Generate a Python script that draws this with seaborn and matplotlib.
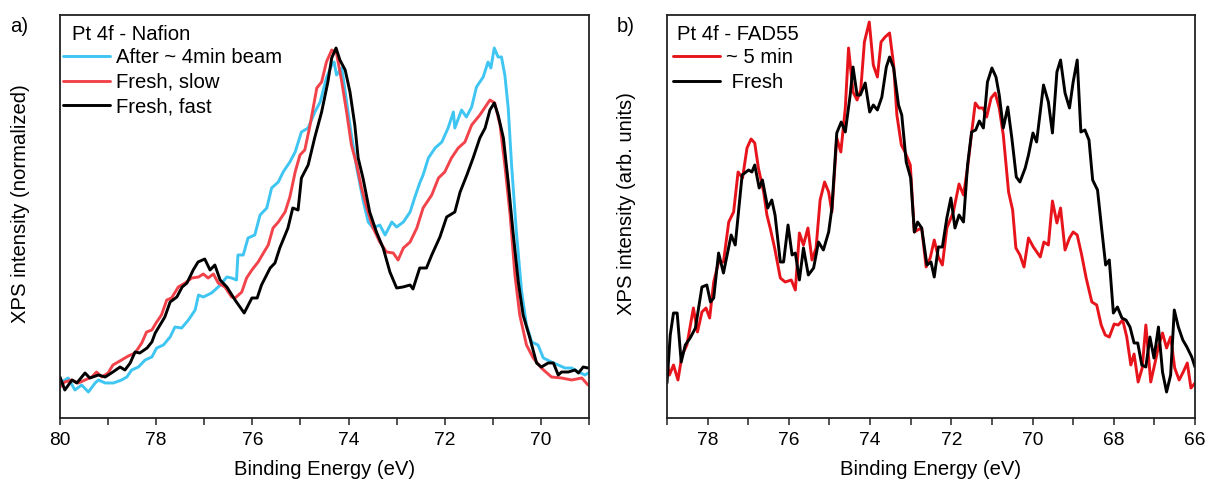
import numpy as np
import pandas as pd
import matplotlib
matplotlib.use("Agg")
import matplotlib.pyplot as plt
import seaborn as sns

# ---------------- Panel a: Pt 4f - Nafion ----------------
a_black_E = [80.00, 79.90, 79.75, 79.65, 79.48, 79.38, 79.20, 79.06, 78.90, 78.75, 78.65, 78.54, 78.44, 78.34,
             78.19, 78.09, 78.02, 77.92, 77.82, 77.71, 77.57, 77.46, 77.36, 77.23, 77.13, 76.99, 76.88, 76.78,
             76.67, 76.53, 76.36, 76.17, 76.01, 75.90, 75.81, 75.63, 75.53, 75.43, 75.26, 75.16, 75.05, 74.98,
             74.84, 74.70, 74.56, 74.43, 74.35, 74.26, 74.18, 74.07, 73.97, 73.87, 73.80, 73.70, 73.56, 73.42,
             73.28, 73.14, 73.00, 72.87, 72.72, 72.66, 72.52, 72.38, 72.27, 72.10, 71.96, 71.79, 71.68, 71.54,
             71.41, 71.27, 71.16, 71.06, 70.97, 70.89, 70.78, 70.68, 70.58, 70.47, 70.37, 70.23, 70.09, 69.99,
             69.85, 69.74, 69.64, 69.57, 69.43, 69.29, 69.22, 69.12, 69.02]
a_black_I = [41, 28, 38, 35, 45, 40, 43, 41, 46, 51, 48, 55, 66, 65,
             70, 76, 85, 93, 101, 116, 121, 131, 135, 148, 156, 159, 148, 153,
             138, 131, 118, 105, 120, 120, 133, 150, 155, 170, 190, 210, 208, 240,
             253, 281, 306, 336, 360, 370, 358, 348, 326, 293, 260, 240, 206, 186,
             170, 146, 130, 131, 133, 129, 150, 150, 163, 181, 201, 206, 226, 243,
             260, 280, 290, 308, 315, 303, 280, 236, 186, 136, 103, 80, 55, 51,
             55, 55, 43, 46, 46, 48, 45, 51, 50]

a_red_E = [80.00, 79.90, 79.76, 79.62, 79.48, 79.34, 79.24, 79.13, 79.00, 78.90, 78.72, 78.58, 78.44, 78.30,
           78.20, 78.09, 77.99, 77.89, 77.78, 77.68, 77.54, 77.40, 77.26, 77.12, 77.02, 76.92, 76.81, 76.71,
           76.57, 76.43, 76.36, 76.22, 76.12, 76.01, 75.88, 75.77, 75.67, 75.57, 75.46, 75.32, 75.22, 75.11,
           75.01, 74.91, 74.80, 74.66, 74.56, 74.46, 74.35, 74.25, 74.14, 74.04, 73.94, 73.83, 73.73, 73.62,
           73.49, 73.35, 73.21, 73.07, 72.97, 72.86, 72.72, 72.58, 72.45, 72.27, 72.13, 72.00, 71.86, 71.72,
           71.58, 71.44, 71.27, 71.13, 71.06, 70.96, 70.85, 70.75, 70.64, 70.54, 70.44, 70.30, 70.16, 69.99,
           69.78, 69.57, 69.36, 69.15, 69.02]
a_red_I = [31, 36, 38, 35, 38, 41, 46, 41, 45, 53, 58, 62, 65, 75,
           86, 88, 96, 103, 118, 120, 131, 135, 140, 141, 144, 140, 144, 135,
           131, 121, 120, 126, 140, 148, 156, 165, 173, 190, 196, 206, 221, 246,
           263, 268, 293, 330, 336, 356, 368, 365, 336, 306, 273, 253, 230, 210,
           190, 176, 166, 165, 158, 170, 176, 190, 210, 223, 240, 246, 260, 270,
           276, 293, 303, 313, 318, 315, 293, 253, 203, 143, 103, 73, 60, 50,
           41, 40, 38, 40, 33]

a_blue_E = [80.00, 79.83, 79.69, 79.55, 79.41, 79.27, 79.20, 79.06, 78.89, 78.72, 78.61, 78.51, 78.37, 78.23,
            78.09, 77.99, 77.85, 77.71, 77.61, 77.47, 77.33, 77.19, 77.12, 77.02, 76.85, 76.71, 76.53, 76.43,
            76.33, 76.30, 76.19, 76.09, 75.95, 75.84, 75.70, 75.60, 75.46, 75.36, 75.22, 75.11, 74.98, 74.84,
            74.70, 74.59, 74.46, 74.35, 74.30, 74.25, 74.14, 74.04, 73.94, 73.83, 73.69, 73.59, 73.49, 73.35,
            73.24, 73.10, 73.00, 72.86, 72.72, 72.62, 72.52, 72.45, 72.34, 72.20, 72.06, 71.93, 71.82, 71.79,
            71.65, 71.55, 71.44, 71.34, 71.20, 71.10, 71.04, 70.97, 70.89, 70.82, 70.75, 70.68, 70.61, 70.51,
            70.40, 70.30, 70.19, 70.06, 69.95, 69.78, 69.64, 69.50, 69.36, 69.22, 69.08, 69.02]
a_blue_I = [35, 40, 28, 33, 26, 35, 38, 35, 35, 38, 41, 48, 51, 58,
            61, 70, 73, 81, 91, 90, 98, 108, 123, 121, 125, 131, 141, 140,
            138, 163, 163, 180, 183, 203, 210, 230, 236, 246, 256, 266, 286, 290,
            306, 316, 340, 353, 356, 343, 350, 316, 283, 250, 216, 196, 190, 193,
            183, 196, 191, 196, 206, 221, 235, 243, 260, 270, 276, 290, 306, 290,
            308, 301, 311, 331, 341, 356, 350, 370, 361, 361, 343, 310, 253, 186,
            126, 93, 76, 73, 60, 56, 53, 50, 50, 46, 43, 45]

a_labels = ["After ~ 4min beam", "Fresh, slow", "Fresh, fast"]
a_title = "Pt 4f - Nafion"

# ---------------- Panel b: Pt 4f - FAD55 ----------------
b_black_E = [79.00, 78.92, 78.84, 78.75, 78.65, 78.55, 78.43, 78.30, 78.14, 78.02, 77.93, 77.85, 77.73, 77.61,
             77.52, 77.42, 77.32, 77.15, 76.99, 76.91, 76.84, 76.73, 76.65, 76.52, 76.42, 76.34, 76.21, 76.13,
             76.02, 75.92, 75.84, 75.74, 75.64, 75.52, 75.39, 75.27, 75.15, 75.02, 74.94, 74.82, 74.71, 74.61,
             74.49, 74.42, 74.32, 74.24, 74.12, 74.01, 73.92, 73.82, 73.71, 73.60, 73.52, 73.42, 73.30, 73.22,
             73.11, 73.00, 72.91, 72.83, 72.73, 72.60, 72.50, 72.42, 72.32, 72.22, 72.11, 72.01, 71.91, 71.81,
             71.70, 71.60, 71.50, 71.40, 71.31, 71.21, 71.11, 71.00, 70.90, 70.82, 70.72, 70.61, 70.51, 70.40,
             70.31, 70.18, 70.10, 69.99, 69.90, 69.73, 69.61, 69.51, 69.40, 69.31, 69.20, 69.09, 69.00, 68.90,
             68.81, 68.71, 68.61, 68.52, 68.40, 68.30, 68.20, 68.11, 68.01, 67.91, 67.80, 67.70, 67.60, 67.50,
             67.41, 67.31, 67.21, 67.11, 67.01, 66.90, 66.80, 66.70, 66.60, 66.51, 66.41, 66.30, 66.20, 66.08,
             66.00]
b_black_I = [35, 83, 105, 105, 56, 73, 80, 90, 131, 133, 116, 120, 165, 145,
             163, 183, 173, 243, 248, 246, 253, 230, 238, 210, 218, 203, 156, 156,
             193, 163, 165, 138, 170, 143, 150, 176, 168, 186, 210, 285, 296, 286,
             323, 351, 323, 323, 335, 306, 313, 308, 321, 351, 361, 350, 313, 303,
             256, 240, 186, 196, 190, 153, 156, 141, 171, 171, 200, 220, 190, 203,
             196, 253, 286, 288, 297, 290, 336, 350, 341, 323, 290, 311, 280, 241,
             236, 250, 263, 285, 276, 333, 316, 285, 346, 358, 325, 310, 336, 358,
             286, 288, 278, 238, 228, 190, 153, 158, 105, 111, 100, 98, 91, 75,
             75, 53, 51, 81, 60, 91, 46, 26, 43, 108, 91, 78, 71, 61,
             51]

b_red_E = [79.00, 78.94, 78.84, 78.73, 78.63, 78.51, 78.35, 78.25, 78.14, 78.04, 77.95, 77.85, 77.73, 77.61,
           77.48, 77.36, 77.25, 77.14, 77.03, 76.93, 76.84, 76.75, 76.62, 76.54, 76.46, 76.35, 76.21, 76.09,
           75.94, 75.84, 75.74, 75.64, 75.53, 75.43, 75.33, 75.23, 75.12, 75.02, 74.94, 74.82, 74.72, 74.61,
           74.53, 74.42, 74.32, 74.23, 74.14, 74.02, 73.92, 73.82, 73.73, 73.63, 73.52, 73.42, 73.34, 73.23,
           73.14, 73.01, 72.91, 72.83, 72.73, 72.62, 72.52, 72.42, 72.32, 72.22, 72.11, 71.95, 71.81, 71.70,
           71.60, 71.50, 71.41, 71.32, 71.22, 71.13, 71.02, 70.92, 70.82, 70.72, 70.59, 70.49, 70.41, 70.31,
           70.21, 70.10, 69.98, 69.81, 69.72, 69.61, 69.51, 69.40, 69.31, 69.20, 69.09, 69.00, 68.90, 68.79,
           68.68, 68.54, 68.42, 68.31, 68.21, 68.11, 67.99, 67.89, 67.78, 67.68, 67.58, 67.50, 67.40, 67.30,
           67.21, 67.09, 66.98, 66.89, 66.80, 66.70, 66.60, 66.50, 66.39, 66.29, 66.19, 66.10, 66.00]
b_red_I = [56, 43, 53, 38, 63, 73, 110, 86, 106, 110, 100, 136, 156, 156,
           196, 206, 246, 240, 270, 279, 275, 250, 226, 203, 190, 170, 140, 136,
           138, 128, 185, 173, 190, 158, 170, 218, 236, 226, 206, 280, 266, 310,
           370, 326, 318, 328, 376, 396, 353, 341, 376, 381, 385, 353, 303, 273,
           266, 253, 186, 188, 190, 151, 160, 178, 161, 153, 190, 206, 234, 223,
           250, 285, 315, 310, 310, 301, 320, 325, 310, 283, 226, 208, 170, 163,
           151, 180, 171, 161, 176, 173, 217, 195, 210, 168, 180, 186, 183, 163,
           140, 116, 113, 93, 83, 81, 94, 93, 98, 81, 53, 64, 36, 50,
           93, 36, 56, 73, 85, 70, 81, 50, 38, 46, 55, 30, 35]

b_labels = ["~ 5 min", " Fresh"]
b_title = "Pt 4f - FAD55"

xlabel = "Binding Energy (eV)"
a_ylabel = "XPS intensity (normalized)"
b_ylabel = "XPS intensity (arb. units)"

# ---------------- style ----------------
sns.set_style("ticks")
plt.rcParams["font.family"] = ["Liberation Sans", "DejaVu Sans"]
plt.rcParams["text.color"] = "black"
plt.rcParams["axes.labelcolor"] = "black"
plt.rcParams["xtick.color"] = "black"

FS = 14.6
W, H = 1208, 486
fig = plt.figure(figsize=(W / 100, H / 100), dpi=100)

def px_axes(l, r, t, b):
    return fig.add_axes([l / W, 1 - b / H, (r - l) / W, (b - t) / H])

ax_a = px_axes(60, 589, 15, 418)
ax_b = px_axes(667, 1195, 15, 418)

blue_c = "#3ec5f2"
red_a = "#f2434b"
red_b = "#e8141c"
black_c = "#000000"

def draw(ax, E, I, color, label):
    df = pd.DataFrame({"E": E, "I": I})
    sns.lineplot(data=df, x="E", y="I", ax=ax, color=color, lw=2.1, label=label,
                 estimator=None, sort=False)

draw(ax_a, a_blue_E, a_blue_I, blue_c, a_labels[0])
draw(ax_a, a_red_E, a_red_I, red_a, a_labels[1])
draw(ax_a, a_black_E, a_black_I, black_c, a_labels[2])

draw(ax_b, b_red_E, b_red_I, red_b, b_labels[0])
draw(ax_b, b_black_E, b_black_I, black_c, b_labels[1])

ax_a.set_xlim(80, 69)
ax_b.set_xlim(79, 66)
for ax in (ax_a, ax_b):
    ax.set_ylim(0, 403)
    ax.set_yticks([])
    ax.set_xlabel(xlabel, fontsize=FS)
    ax.xaxis.set_label_coords(0.5, -0.103)
    ax.xaxis.set_major_locator(matplotlib.ticker.MultipleLocator(2))
    ax.xaxis.set_minor_locator(matplotlib.ticker.MultipleLocator(1))
    ax.tick_params(axis="x", which="both", direction="out", length=5, width=1.1,
                   colors="#222222", labelcolor="black", labelsize=13.8, pad=5)
    for s in ax.spines.values():
        s.set_visible(True)
        s.set_color("#222222")
        s.set_linewidth(1.3)

ax_a.set_ylabel(a_ylabel, fontsize=FS)
ax_a.yaxis.set_label_coords(-0.056, 0.533)
ax_b.set_ylabel(b_ylabel, fontsize=FS)
ax_b.yaxis.set_label_coords(-0.058, 0.533)

# legends
ax_a.text(0.023, 0.952, a_title, transform=ax_a.transAxes, fontsize=FS, va="center", ha="left")
ax_a.legend(loc="upper left", bbox_to_anchor=(0.0025, 0.923), frameon=False, borderaxespad=0,
            borderpad=0.1, handlelength=2.3, handletextpad=0.3, labelspacing=0.28, fontsize=FS)
ax_b.text(0.018, 0.952, b_title, transform=ax_b.transAxes, fontsize=FS, va="center", ha="left")
ax_b.legend(loc="upper left", bbox_to_anchor=(0.008, 0.923), frameon=False, borderaxespad=0,
            borderpad=0.1, handlelength=2.3, handletextpad=0.3, labelspacing=0.28, fontsize=FS)

fig.text(10 / W, 1 - 26 / H, "a)", fontsize=FS, va="center", ha="left")
fig.text(617 / W, 1 - 27 / H, "b)", fontsize=FS, va="center", ha="left")

fig.savefig("out.png", dpi=100)
